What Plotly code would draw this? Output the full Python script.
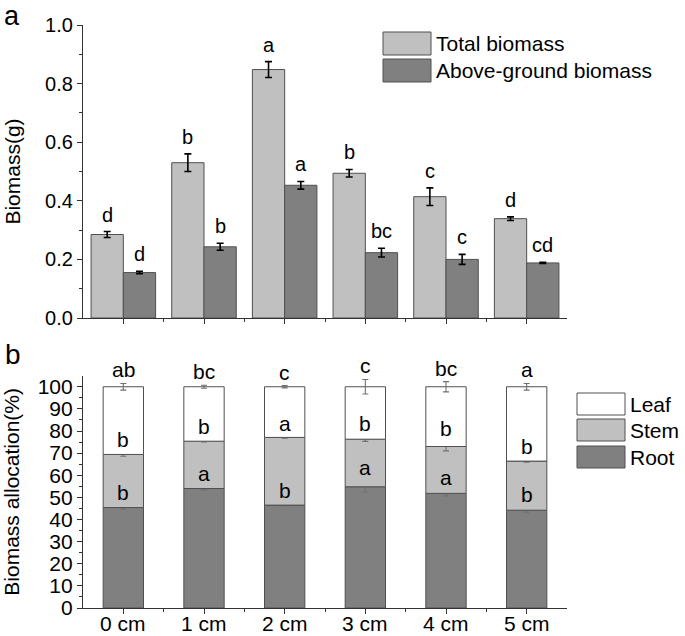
import plotly.graph_objects as go

# ---------------- data ----------------
categories = ["0 cm", "1 cm", "2 cm", "3 cm", "4 cm", "5 cm"]

total = [0.285, 0.530, 0.848, 0.494, 0.414, 0.339]
total_err = [0.010, 0.030, 0.027, 0.013, 0.030, 0.006]
above = [0.155, 0.243, 0.453, 0.223, 0.200, 0.188]
above_err = [0.004, 0.012, 0.013, 0.015, 0.017, 0.002]
total_letters = ["d", "b", "a", "b", "c", "d"]
above_letters = ["d", "b", "a", "bc", "c", "cd"]

root = [45.4, 54.0, 46.5, 54.8, 51.8, 44.2]
stem = [24.0, 21.4, 30.6, 21.5, 21.2, 22.2]
leaf = [30.6, 24.6, 22.9, 23.7, 27.0, 33.6]
root_err = [0.6, 0.6, 0.3, 2.4, 1.1, 0.9]
stem_err = [0.8, 0.4, 0.4, 1.0, 2.0, 0.5]
leaf_err = [1.5, 0.7, 0.5, 3.3, 2.3, 1.5]
root_letters = ["b", "a", "b", "a", "a", "b"]
stem_letters = ["b", "b", "a", "b", "b", "b"]
leaf_letters = ["ab", "bc", "c", "c", "bc", "a"]

a_ticks = [0.0, 0.2, 0.4, 0.6, 0.8, 1.0]
b_ticks = list(range(0, 101, 10))

# ---------------- style ----------------
FONT = "Liberation Sans, Arial, sans-serif"
C_LIGHT = "#c0c0c0"
C_DARK = "#808080"
C_WHITE = "#ffffff"
EDGE = "#505050"
W, H = 685, 636
ML, MR, MT, MB = 83, 118, 25, 28
PW, PH = W - ML - MR, H - MT - MB


def px(xp):
    return (xp - ML) / PW


def py(yp):
    return (H - MB - yp) / PH


x = list(range(len(categories)))
stem_base = root
leaf_base = [r + s for r, s in zip(root, stem)]

fig = go.Figure()

# Panel a (grouped via offsets)
fig.add_trace(go.Bar(
    x=x, y=total, name="Total biomass", xaxis="x", yaxis="y",
    width=0.4, offset=-0.4,
    marker=dict(color=C_LIGHT, line=dict(color=EDGE, width=1)),
    error_y=dict(type="data", array=total_err, color="black", thickness=1.6, width=3.5),
    showlegend=False,
))
fig.add_trace(go.Bar(
    x=x, y=above, name="Above-ground biomass", xaxis="x", yaxis="y",
    width=0.4, offset=0.0,
    marker=dict(color=C_DARK, line=dict(color=EDGE, width=1)),
    error_y=dict(type="data", array=above_err, color="black", thickness=1.6, width=3.5),
    showlegend=False,
))

# Panel b (stacked via base)
for vals, base, errs, col, nm in [(root, None, root_err, C_DARK, "Root"),
                                  (stem, stem_base, stem_err, C_LIGHT, "Stem"),
                                  (leaf, leaf_base, leaf_err, C_WHITE, "Leaf")]:
    fig.add_trace(go.Bar(
        x=x, y=vals, base=base, name=nm, xaxis="x2", yaxis="y2", width=0.5,
        marker=dict(color=col, line=dict(color=EDGE, width=1)),
        error_y=dict(type="data", array=errs, color="#707070", thickness=1.1, width=3),
        showlegend=False,
    ))

annotations = []
# letters panel a
for i in x:
    annotations.append(dict(x=i - 0.2, y=total[i] + total_err[i], xref="x", yref="y",
                            text=total_letters[i], showarrow=False, yanchor="bottom",
                            yshift=4, font=dict(size=20, color="black", family=FONT)))
    annotations.append(dict(x=i + 0.2, y=above[i] + above_err[i], xref="x", yref="y",
                            text=above_letters[i], showarrow=False, yanchor="bottom",
                            yshift=4, font=dict(size=20, color="black", family=FONT)))
# letters panel b
for i in x:
    c1 = root[i]
    c2 = root[i] + stem[i]
    c3 = root[i] + stem[i] + leaf[i]
    for yy, e, t in [(c1, root_err[i], root_letters[i]),
                     (c2, stem_err[i], stem_letters[i]),
                     (c3, leaf_err[i], leaf_letters[i])]:
        annotations.append(dict(x=i, y=yy + e, xref="x2", yref="y2", text=t,
                                showarrow=False, yanchor="bottom", yshift=0,
                                font=dict(size=21, color="black", family=FONT)))

# x tick labels of panel b (as annotations, placed tight under the axis)
for i in x:
    annotations.append(dict(x=i, y=0, xref="x2", yref="y2", text=categories[i],
                            showarrow=False, yanchor="top", yshift=-3, borderpad=0,
                            font=dict(size=21, color="black", family=FONT)))

# panel labels
annotations.append(dict(x=px(3), y=py(0), xref="paper", yref="paper", text="a",
                        showarrow=False, xanchor="left", yanchor="top", borderpad=0,
                        font=dict(size=27, color="black", family=FONT)))
annotations.append(dict(x=px(3), y=py(337), xref="paper", yref="paper", text="b",
                        showarrow=False, xanchor="left", yanchor="top",
                        font=dict(size=28, color="black", family=FONT)))

shapes = []
# manual legend panel a
leg_a = [("Total biomass", C_LIGHT, 32, 55), ("Above-ground biomass", C_DARK, 59, 82)]
for name, col, y0, y1 in leg_a:
    shapes.append(dict(type="rect", xref="paper", yref="paper",
                       x0=px(383), x1=px(431), y0=py(y1), y1=py(y0),
                       fillcolor=col, line=dict(color=EDGE, width=1)))
    annotations.append(dict(x=px(434), y=py((y0 + y1) / 2), xref="paper", yref="paper",
                            text=name, showarrow=False, xanchor="left", yanchor="middle",
                            font=dict(size=21, color="black", family=FONT)))
# manual legend panel b
leg_b = [("Leaf", C_WHITE, 393, 415), ("Stem", C_LIGHT, 419, 441), ("Root", C_DARK, 446, 468)]
for name, col, y0, y1 in leg_b:
    shapes.append(dict(type="rect", xref="paper", yref="paper",
                       x0=px(577), x1=px(625), y0=py(y1), y1=py(y0),
                       fillcolor=col, line=dict(color=EDGE, width=1)))
    annotations.append(dict(x=px(628), y=py((y0 + y1) / 2), xref="paper", yref="paper",
                            text=name, showarrow=False, xanchor="left", yanchor="middle",
                            font=dict(size=21, color="black", family=FONT)))

axis_common = dict(showline=True, linecolor="#333333", linewidth=1.2, showgrid=False,
                   zeroline=False, ticks="outside", ticklen=5, tickcolor="#333333",
                   tickwidth=1.2, automargin=False)

fig.update_layout(
    width=W, height=H,
    margin=dict(l=ML, r=MR, t=MT, b=MB, autoexpand=False),
    paper_bgcolor="white", plot_bgcolor="white",
    font=dict(family=FONT, color="black"),
    barmode="overlay",
    xaxis=dict(**axis_common, domain=[0, 1], anchor="y", range=[-0.5, 5.5],
               tickvals=x, showticklabels=False,
               minor=dict(tickvals=[i + 0.5 for i in x[:-1]], ticklen=3, ticks="outside",
                          tickcolor="#333333", tickwidth=1.2)),
    yaxis=dict(**axis_common, domain=[py(318), 1.0], anchor="x", range=[0, 1.0],
               tickvals=a_ticks, ticktext=[f"{v:.1f}" for v in a_ticks],
               tickfont=dict(size=20),
               minor=dict(dtick=0.1, ticklen=3, ticks="outside", tickcolor="#333333",
                          tickwidth=1.2),
               title=dict(text="Biomass(g)", font=dict(size=21), standoff=18)),
    xaxis2=dict(**axis_common, domain=[0, 1], anchor="y2", range=[-0.5, 5.5],
                tickvals=x, showticklabels=False,
                minor=dict(tickvals=[i + 0.5 for i in x[:-1]], ticklen=3, ticks="outside",
                           tickcolor="#333333", tickwidth=1.2)),
    yaxis2=dict(**axis_common, domain=[0, py(375.7)], anchor="x2", range=[0, 105],
                tickvals=b_ticks, tickfont=dict(size=21),
                minor=dict(tickvals=list(range(5, 101, 10)), ticklen=3, ticks="outside",
                           tickcolor="#333333", tickwidth=1.2),
                title=dict(text="Biomass allocation(%)", font=dict(size=21), standoff=13)),
    annotations=annotations,
    shapes=shapes,
)

fig.write_html("out.html", config={"displayModeBar": False},
               post_script="document.body.style.margin='0';document.body.style.overflow='hidden';")
